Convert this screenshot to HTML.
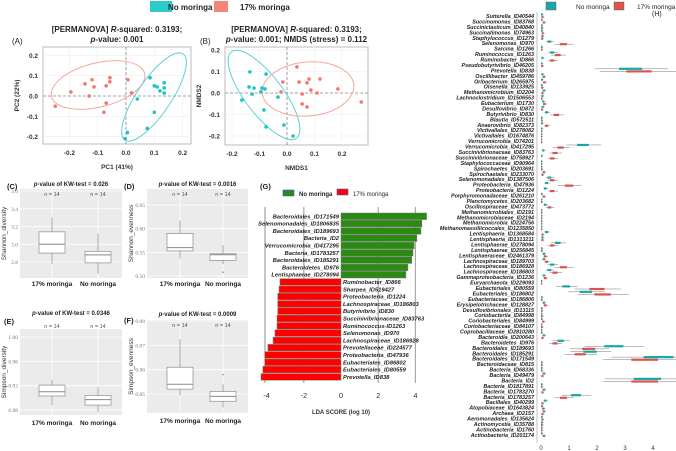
<!DOCTYPE html>
<html><head><meta charset="utf-8">
<style>
html,body{margin:0;padding:0;background:#fff;}
svg{display:block;font-family:"Liberation Sans",Arial,sans-serif;}
.t{font-weight:bold;}
</style></head>
<body>
<svg id="fig" width="676" height="451" viewBox="0 0 676 451">
  <!-- top legend -->
  <g>
    <rect x="150" y="1" width="22" height="11" fill="#2ecbcb"/>
    <text x="168" y="10" font-size="8" class="t" fill="#222">No moringa</text>
    <rect x="214" y="1" width="14" height="11" fill="#f4857a"/>
    <text x="240" y="10" font-size="8" class="t" fill="#222">17% moringa</text>
  </g>
  <g id="pA"></g>
  <g id="pB"></g>
  <g id="pBox"></g>
  <g id="pG"></g>
  <g id="pH"></g>
</svg>
<script>
// ---------- Panel A data (PCA) ----------
const pcaSalmonX=[-0.25,-0.195,-0.145,-0.12,-0.113,-0.13,-0.07,-0.057,-0.057,-0.07,-0.078,0.007,0.02];
const pcaSalmonY=[-0.05,0.02,0.06,0.08,0.045,0.0,0.05,0.09,0.07,-0.035,-0.08,0.08,0.015];
const pcaCyanX=[0.085,0.1,0.11,0.135,0.135,0.135,0.12,0.04,0.1,0.075,0.005,-0.003];
const pcaCyanY=[0.09,0.05,0.045,0.065,0.04,0.015,0.025,-0.015,-0.08,-0.16,-0.18,-0.21];
const pcaXTicks=[-0.2,-0.1,0.0,0.1,0.2];
const pcaYTicks=[0.2,0.1,0.0,-0.1,-0.2];
// ---------- Panel B data (NMDS) ----------
const nmdsCyanX=[-0.135,-0.076,-0.138,-0.12,-0.127,-0.091,-0.08,-0.095,-0.164,-0.033,-0.084,-0.076,-0.011,0.022];
const nmdsCyanY=[0.098,0.088,0.028,0.023,-0.005,0.023,0.019,0.005,-0.033,-0.019,-0.079,-0.158,-0.149,-0.2];
const nmdsSalmonX=[-0.015,-0.022,0.036,0.044,0.073,0.08,0.12,0.087,0.109,0.055,0.055,0.073,0.185,0.27];
const nmdsSalmonY=[0.051,0.005,0.121,0.051,0.047,0.065,0.065,0.014,0,-0.005,-0.051,-0.065,0.019,-0.042];
const nmdsXTicks=[-0.2,-0.1,0.0,0.1,0.2];
const nmdsYTicks=[0.2,0.1,0.0,-0.1,-0.2];
// ---------- Boxplot data [lowWhisker,q1,median,q3,highWhisker] ----------
const boxGroups=["17% moringa","No moringa"];
const shannonDiv=[[2.78,2.9,3.0,3.14,3.30],[2.67,2.79,2.88,2.92,3.12]];
const shannonEven=[[0.537,0.553,0.56,0.59,0.617],[0.525,0.533,0.545,0.547,0.565]];
const simpsonDiv=[[0.888,0.903,0.91,0.921,0.93],[0.877,0.888,0.897,0.904,0.917]];
const simpsonEven=[[0.0495,0.052,0.054,0.061,0.0725],[0.0445,0.047,0.049,0.051,0.054]];
const shannonEvenOutliers=[[],[0.508]];
const simpsonEvenOutliers=[[],[0.058]];
const ticksC=[2.8,3.0,3.2,3.4,3.6], ticksD=[0.50,0.55,0.60,0.65], ticksE=[0.88,0.92,0.96,1.00], ticksF=[0.05,0.06,0.07,0.08];
// ---------- Panel G data (LDA) ----------
const ldaTaxa=["Bacteroidales_ID171549","Selenomonadales_ID1806835","Bacteroidales_ID189693","Bacteria_ID2","Verrucomicrobia_ID417295","Bacteria_ID1783257","Bacteroidales_ID185291","Bacteroidetes_ID976","Lentisphaerae_ID278094","Ruminobacter_ID866","Sharpea_ID519427","Proteobacteria_ID1224","Lachnospiraceae_ID186803","Butyrivibrio_ID830","Succinivibrionaceae_ID83763","Ruminococcus-ID1263","Selenomonas_ID970","Lachnospiraceae_ID186928","Prevotellaceae_ID224577","Proteobacteria_ID47936","Eubacteriales_ID86802","Eubacteriales_ID80559","Prevotella_ID838"];
const ldaScores=[4.6,4.35,4.3,4.08,3.93,3.87,3.8,3.6,3.49,-3.28,-3.33,-3.4,-3.4,-3.4,-3.44,-3.44,-3.55,-3.65,-3.93,-4.1,-4.1,-4.2,-4.3];
const ldaTicks=[-4,-2,0,2,4];
// ---------- Panel H data ----------
const hTaxa=["Sutterella_ID40544","Succinomonas_ID83768","Succiniclasticum_ID40840","Succinatimonas_ID74963","Staphylococcus_ID1279","Selenomonas_ID970","Sarcina_ID1266","Ruminococcus_ID1263","Ruminobacter_ID866","Pseudobutyrivibrio_ID46205","Prevotella_ID838","Oscillibacter_ID459786","Oribacterium_ID265975","Olsenella_ID133925","Methanomicrobium_ID2204","Lachnoclostridium_ID1506553","Eubacterium_ID1730","Desulfovibrio_ID872","Butyrivibrio_ID830","Blautia_ID572511","Anaerovibrio_ID82373","Victivallales_ID278082","Victivallales_ID1674876","Verrucomicrobia_ID74201","Verrucomicrobia_ID417295","Succinivibrionaceae_ID83763","Succinivibrionaceae_ID758927","Staphylococcaceae_ID90964","Spirochaetes_ID203691","Spirochaetales_ID233070","Selenomonadales_ID1387506","Proteobacteria_ID47936","Proteobacteria_ID1224","Porphyromonadaceae_ID261210","Planctomycetes_ID203682","Oscillospiraceae_ID473772","Methanomicrobiales_ID2191","Methanomicrobiaceae_ID2194","Methanomicrobia_ID224756","Methanomassiliicoccales_ID1235850","Lentisphaeria_ID1368584","Lentisphaeria_ID1313211","Lentisphaerae_ID278094","Lentisphaerae_ID256845","Lentisphaeraceae_ID2461379","Lachnospiraceae_ID189703","Lachnospiraceae_ID186928","Lachnospiraceae_ID186803","Gammaproteobacteria_ID1236","Euryarchaeota_ID229093","Eubacteriales_ID80559","Eubacteriales_ID186802","Eubacteriaceae_ID186806","Erysipelotrichaceae_ID128827","Desulfovibrionales_ID13115","Coriobacteriia_ID84998","Coriobacteriales_ID84999","Coriobacteriaceae_ID84107","Coprobacillaceae_ID2810280","Bacteroidia_ID200643","Bacteroidetes_ID976","Bacteroidales_ID189693","Bacteroidales_ID185291","Bacteroidales_ID171549","Bacteroidaceae_ID815","Bacteria_ID68336","Bacteria_ID49479","Bacteria_ID2","Bacteria_ID1817891","Bacteria_ID1783270","Bacteria_ID1783257","Bacillales_ID40299","Atopobiaceae_ID1643824","Archaea_ID2157","Aeromonadales_ID135624","Actinomycetia_ID35788","Actinobacteria_ID1760","Actinobacteria_ID201174"];
const hCyan=[0.03,0.02,0.02,0.03,0.05,0.3,0.02,0.4,0.05,0.02,3.2,0.05,0.03,0.02,0.1,0.05,0.08,0.06,0.2,0.02,0.03,0.02,0.01,0.01,1.5,0.08,0.02,0.01,0.01,0.1,0.3,0.2,0.15,0.02,0.01,0.15,0.01,0.01,0.01,0.01,0.2,0.05,0.6,0.02,0.1,0.1,0.4,0.3,0.1,0.01,0.9,1.6,0.02,0.1,0.02,0.01,0.02,0.01,0.01,0.1,0.7,2.6,1.75,4.2,0.02,0.02,0.1,3.8,0.02,0.1,1.25,0.15,0.03,0.1,0.02,0.03,0.02,0.02];
const hRed=[0.05,0.1,0.03,0.06,0.04,0.8,0.02,0.6,0.4,0.04,3.5,0.1,0.12,0.04,0.05,0.02,0.12,0.03,0.55,0.02,0.2,0.01,0.01,0.01,0.7,0.5,0.4,0.01,0.02,0.05,0.4,1.0,0.4,0.1,0.02,0.3,0.01,0.01,0.01,0.01,0.05,0.05,0.4,0.02,0.15,0.2,0.8,0.5,0.15,0.01,2.0,2.2,0.02,0.15,0.02,0.03,0.08,0.03,0.02,0.05,0.5,1.7,1.4,3.7,0.02,0.02,0.05,3.7,0.02,0.05,0.8,0.05,0.08,0.05,0.05,0.03,0.02,0.1];
const hTicks=[0,1,2,3,4];

const NS="http://www.w3.org/2000/svg";
function mk(parent,tag,attrs,text){const e=document.createElementNS(NS,tag);for(const k in attrs)e.setAttribute(k,attrs[k]);if(text!==undefined)e.textContent=text;parent.appendChild(e);return e;}
const CYAN="#1fc3c3", SALMON="#f4776b";

// ---------- Ordination panel ----------
function ordination(g,o){
  const {x0,x1,y0,y1,sx,sy,title1,title2,label,xlab,ylab,xt,yt}=o;
  let r=mk(g,'rect',{x:x0,y:y0,width:x1-x0,height:y1-y0,fill:'#fff',stroke:'#bbb','stroke-width':1});
  
  
  xt.forEach(v=>{let l=mk(g,'line',{x1:sx(v),x2:sx(v),y1:y0,y2:y1,stroke:'#eee','stroke-width':0.6});
    let t=mk(g,'text',{x:sx(v),y:y1+11,'font-size':6.5,'text-anchor':'middle',class:'t',fill:'#333'},v.toFixed(1));});
  yt.forEach(v=>{let l=mk(g,'line',{x1:x0,x2:x1,y1:sy(v),y2:sy(v),stroke:'#eee','stroke-width':0.6});
    let t=mk(g,'text',{x:x0-5,y:sy(v)+2.5,'font-size':6.5,'text-anchor':'end',class:'t',fill:'#333'},v.toFixed(1));});
  let h=mk(g,'line',{x1:x0,x2:x1,y1:sy(0),y2:sy(0),stroke:'#888','stroke-dasharray':'3,2','stroke-width':0.8});
  let v=mk(g,'line',{x1:sx(0),x2:sx(0),y1:y0,y2:y1,stroke:'#888','stroke-dasharray':'3,2','stroke-width':0.8});
  o.ell.forEach(e=>{let el=mk(g,'ellipse',{cx:e[0],cy:e[1],rx:e[2],ry:e[3],transform:`rotate(${e[4]} ${e[0]} ${e[1]})`,fill:'none',stroke:e[5],'stroke-width':1});});
  o.pts.forEach(s=>{s.x.forEach((xv,i)=>{let c=mk(g,'circle',{cx:sx(xv),cy:sy(s.y[i]),r:1.8,fill:s.c});});});
  let t1=mk(g,'text',{x:(x0+x1)/2,y:y0-15,'font-size':8,'text-anchor':'middle',class:'t',fill:'#222'});t1.innerHTML=title1;
  let t2=mk(g,'text',{x:(x0+x1)/2,y:y0-5,'font-size':8,'text-anchor':'middle',class:'t',fill:'#222'});t2.innerHTML=title2;
  let pl=mk(g,'text',{x:label[1],y:label[2],'font-size':8,fill:'#222'},label[0]);
  let xl=mk(g,'text',{x:(x0+x1)/2,y:y1+25,'font-size':6.5,'text-anchor':'middle',class:'t',fill:'#333'},xlab);
  let yl=mk(g,'text',{x:0,y:0,'font-size':6.5,'text-anchor':'middle',class:'t',fill:'#333',transform:`translate(${x0-24},${(y0+y1)/2}) rotate(-90)`},ylab);
}
const sxA=v=>126+v*283, syA=v=>96-v*203;
ordination(document.getElementById('pA'),{x0:43,x1:191,y0:47,y1:144,sx:sxA,sy:syA,
  title1:'[PERMANOVA] <tspan font-style="italic">R</tspan>-squared: 0.3193;',title2:'<tspan font-style="italic">p</tspan>-value: 0.001',
  label:['(A)',12,44],xlab:'PC1 (41%)',ylab:'PC2 (22%)',xt:pcaXTicks,yt:pcaYTicks,
  ell:[[98,85,48,22,-14,'#f4a79f'],[154,97,52,17,-56,'#5fd3d3']],
  pts:[{x:pcaSalmonX,y:pcaSalmonY,c:SALMON},{x:pcaCyanX,y:pcaCyanY,c:CYAN}]});
const sxB=v=>287+v*275, syB=v=>93-v*215;
ordination(document.getElementById('pB'),{x0:225,x1:368,y0:47,y1:145,sx:sxB,sy:syB,
  title1:'[PERMANOVA] <tspan font-style="italic">R</tspan>-squared: 0.3193;',title2:'<tspan font-style="italic">p</tspan>-value: 0.001; NMDS (stress) = 0.112',
  label:['(B)',200,44],xlab:'NMDS1',ylab:'NMDS2',xt:nmdsXTicks,yt:nmdsYTicks,
  ell:[[264,95,54,19,53,'#5fd3d3'],[308,89,46,27,-5,'#f4a79f']],
  pts:[{x:nmdsCyanX,y:nmdsCyanY,c:CYAN},{x:nmdsSalmonX,y:nmdsSalmonY,c:SALMON}]});

// ---------- Boxplots ----------
function boxpanel(g,o){
  const {x0,x1,y0,y1,sy,data,outl,ticks,dec,title,ylab,letter,cx,tY,nY,xlY}=o;
  let r=mk(g,'rect',{x:x0,y:y0,width:x1-x0,height:y1-y0,fill:'#ebebeb'});
  ticks.forEach(v=>{let l=mk(g,'line',{x1:x0,x2:x1,y1:sy(v),y2:sy(v),stroke:'#fff','stroke-width':0.8});
    let t=mk(g,'text',{x:x0-2,y:sy(v)+2,'font-size':5.5,'text-anchor':'end',fill:'#777','font-family':'Liberation Serif'},v.toFixed(dec));});
  cx.forEach(c=>{let l=mk(g,'line',{x1:c,x2:c,y1:y0,y2:y1,stroke:'#fff','stroke-width':0.8});});
  data.forEach((d,i)=>{const c=cx[i],w=13;
    let wl=mk(g,'line',{x1:c,x2:c,y1:sy(d[4]),y2:sy(d[0]),stroke:'#999','stroke-width':0.8});
    let b=mk(g,'rect',{x:c-w,y:sy(d[3]),width:2*w,height:sy(d[1])-sy(d[3]),fill:'#fff',stroke:'#999','stroke-width':0.8});
    let m=mk(g,'line',{x1:c-w,x2:c+w,y1:sy(d[2]),y2:sy(d[2]),stroke:'#888','stroke-width':1});
    (outl?outl[i]:[]).forEach(v=>{let p=mk(g,'circle',{cx:c,cy:sy(v),r:0.7,fill:'#777'});});
    let n=mk(g,'text',{x:c,y:nY,'font-size':5.5,'text-anchor':'middle',fill:'#555'},'n = 14');
    let xl=mk(g,'text',{x:c,y:xlY,'font-size':6.5,'text-anchor':'middle',class:'t',fill:'#222'},boxGroups[i]);
  });
  let t=mk(g,'text',{x:(x0+x1)/2,y:tY,'font-size':6,'text-anchor':'middle',class:'t',fill:'#222'});t.innerHTML='<tspan font-style="italic">p</tspan>-value of KW-test = '+title;
  let yl=mk(g,'text',{x:0,y:0,'font-size':6.5,'text-anchor':'middle',fill:'#333',transform:`translate(${x0-14},${(y0+y1)/2}) rotate(-90)`},ylab);
  let pl=mk(g,'text',{x:letter[1],y:letter[2],'font-size':7.5,class:'t',fill:'#222'},letter[0]);
}
const gb=document.getElementById('pBox');
boxpanel(gb,{x0:20,x1:122,y0:189,y1:278,sy:v=>262-(v-2.8)*88.75,data:shannonDiv,ticks:ticksC,dec:1,title:'0.026',ylab:'Shannon_diversity',letter:['(C)',7,189],cx:[52,98],tY:186,nY:196,xlY:286});
boxpanel(gb,{x0:147,x1:248,y0:189,y1:278,sy:v=>276-(v-0.5)*473,data:shannonEven,outl:shannonEvenOutliers,ticks:ticksD,dec:2,title:'0.0016',ylab:'Shannon_evenness',letter:['(D)',124,189],cx:[180,223],tY:186,nY:196,xlY:286});
boxpanel(gb,{x0:20,x1:122,y0:329,y1:415,sy:v=>410-(v-0.88)*608,data:simpsonDiv,ticks:ticksE,dec:2,title:'0.0346',ylab:'Simpson_diversity',letter:['(E)',4,324],cx:[52,98],tY:315,nY:328,xlY:425});
boxpanel(gb,{x0:147,x1:248,y0:320,y1:413,sy:v=>394-(v-0.05)*2433,data:simpsonEven,outl:simpsonEvenOutliers,ticks:ticksF,dec:2,title:'0.0009',ylab:'Simpson_evenness',letter:['(F)',124,323],cx:[180,223],tY:316,nY:327,xlY:423});

// ---------- Panel G ----------
(function(){
  const g=document.getElementById('pG');
  const sx=v=>341+v*18.6, sy=i=>213+i*7.3;
  [-2,2,4].forEach(v=>{let l=mk(g,'line',{x1:sx(v),x2:sx(v),y1:207,y2:383,stroke:'#aaa','stroke-width':1.2});});
  let ax=mk(g,'line',{x1:265,x2:265,y1:207,y2:383,stroke:'#444','stroke-width':0.6});
  ldaTaxa.forEach((n,i)=>{const v=ldaScores[i];const a=sx(Math.min(0,v)),b=sx(Math.max(0,v));
    let r=mk(g,'rect',{x:a,y:sy(i),width:b-a,height:6.6,fill:v>0?'#2a8a12':'#ff0000',stroke:'#777','stroke-width':0.5});
    let t=mk(g,'text',{x:v>0?339:343,y:sy(i)+5.3,'font-size':5.8,'font-style':'italic','text-anchor':v>0?'end':'start',class:'t',fill:'#222'},n);
  });
  ldaTicks.forEach(v=>{let t=mk(g,'text',{x:sx(v),y:398,'font-size':7.5,'text-anchor':'middle',fill:'#333'},v);});
  let xl=mk(g,'text',{x:341,y:414,'font-size':6,'text-anchor':'middle',class:'t',fill:'#333'},'LDA SCORE (log 10)');
  let pl=mk(g,'text',{x:260,y:189,'font-size':7.5,class:'t',fill:'#222'},'(G)');
  let s1=mk(g,'rect',{x:283,y:190,width:11,height:6,fill:'#2a8a12',stroke:'#3366cc','stroke-width':0.6});
  let l1=mk(g,'text',{x:299,y:196,'font-size':6,class:'t',fill:'#222'},'No moringa');
  let s2=mk(g,'rect',{x:337,y:189,width:11,height:6,fill:'#ff0000',stroke:'#3366cc','stroke-width':0.6});
  let l2=mk(g,'text',{x:353,y:196,'font-size':6,fill:'#222'},'17% moringa');
})();

// ---------- Panel H ----------
(function(){
  const g=document.getElementById('pH');
  const sx=v=>541+v*28, sy=i=>16+i*5.44;
  let ax=mk(g,'line',{x1:537,x2:537,y1:12,y2:443,stroke:'#999','stroke-width':0.6});
  hTaxa.forEach((n,i)=>{
    let t=mk(g,'text',{x:534,y:sy(i)+2,'font-size':5.4,'font-style':'italic','text-anchor':'end',class:'t',fill:'#222'},n);
    [[hCyan[i],'#1aa6a6',-1.6],[hRed[i],'#d9534f',1.0]].forEach(([v,c,dy])=>{
      const y=sy(i)+dy, sp=v*0.12+0.03;
      let w=mk(g,'line',{x1:sx(Math.max(0,v*0.6)),x2:sx(v*1.4+0.05),y1:y,y2:y,stroke:'#555','stroke-width':0.4});
      let b=mk(g,'rect',{x:sx(Math.max(0,v-sp)),y:y-1.1,width:sx(v+sp)-sx(Math.max(0,v-sp)),height:2.2,fill:c});
    });
  });
  hTicks.forEach(v=>{let t=mk(g,'text',{x:sx(v),y:450,'font-size':6,'text-anchor':'middle',fill:'#333'},v);});
  let s1=mk(g,'rect',{x:546,y:2,width:10,height:8,fill:'#1aa6a6',stroke:'#555','stroke-width':0.4});
  let l1=mk(g,'text',{x:576,y:9,'font-size':6.5,fill:'#222'},'No moringa');
  let s2=mk(g,'rect',{x:614,y:2,width:10,height:8,fill:'#d9534f',stroke:'#555','stroke-width':0.4});
  let l2=mk(g,'text',{x:637,y:9,'font-size':6.5,fill:'#222'},'17% moringa');
  let pl=mk(g,'text',{x:652,y:16,'font-size':7,fill:'#222'},'(H)');
})();
</script>
</body></html>
